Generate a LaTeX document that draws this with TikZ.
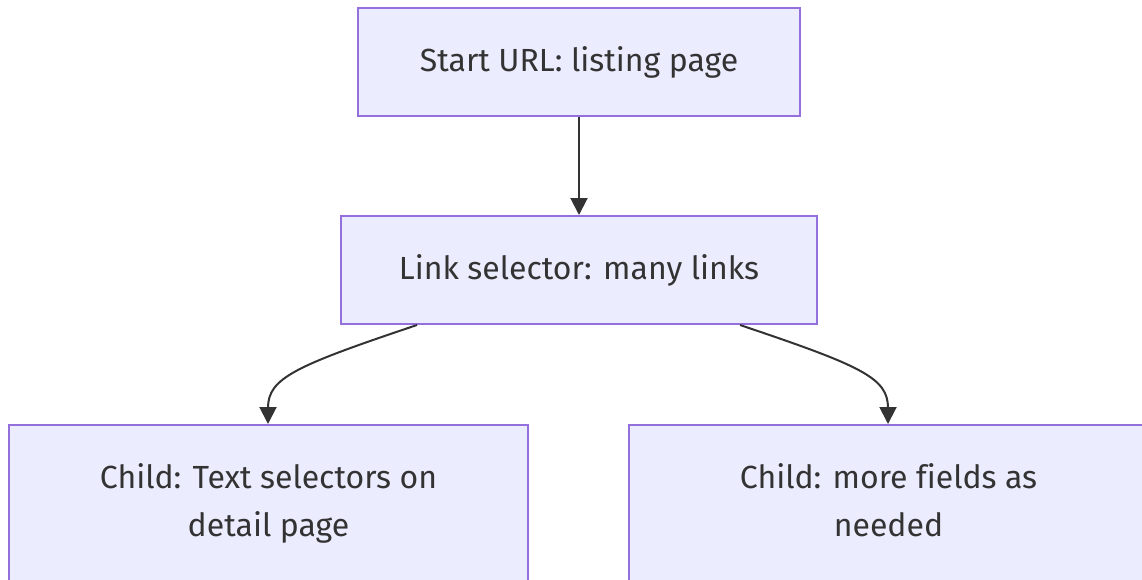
\documentclass[tikz,border=0pt]{standalone}
\usepackage{fontspec}
\setmainfont[Ligatures=CommonOff]{Fira Sans}
\usetikzlibrary{arrows.meta}
\definecolor{boxfill}{HTML}{ECECFF}
\definecolor{boxline}{HTML}{9370DB}
\definecolor{ink}{HTML}{333333}
\tikzset{
  flowbox/.style={draw=boxline, fill=boxfill, line width=2pt, text=ink,
    font=\fontsize{32}{48}\selectfont, align=center, inner sep=0pt},
  flowlink/.style={draw=ink, line width=2pt,
    -{Triangle[length=17pt,width=17pt]}}
}
\begin{document}
\begin{tikzpicture}[x=1pt,y=-1pt]
  \useasboundingbox (0,0) rectangle (1142,579);
  \clip (0,0) rectangle (1142,579);
  \node[flowbox, minimum width=442pt, minimum height=108pt] (start) at (579,62) {Start URL: listing page};
  \node[flowbox, minimum width=476pt, minimum height=108pt] (links) at (579,270) {Link selector: many links};
  \node[flowbox, minimum width=519pt, minimum height=156pt] (childA) at (268.5,503) {\strut Child: Text selectors on\\\strut detail page};
  \node[flowbox, minimum width=519pt, minimum height=156pt] (childB) at (888.5,503) {\strut Child: more fields as\\\strut needed};
  \draw[flowlink] (start.south) -- (links.north);
  \draw[flowlink] (links.south -| 417,0) .. controls (295,366) and (268,378) .. (268,408) -- (childA.north -| 268,0);
  \draw[flowlink] (links.south -| 740,0) .. controls (862,366) and (888,378) .. (888,408) -- (childB.north -| 888,0);
\end{tikzpicture}
\end{document}
